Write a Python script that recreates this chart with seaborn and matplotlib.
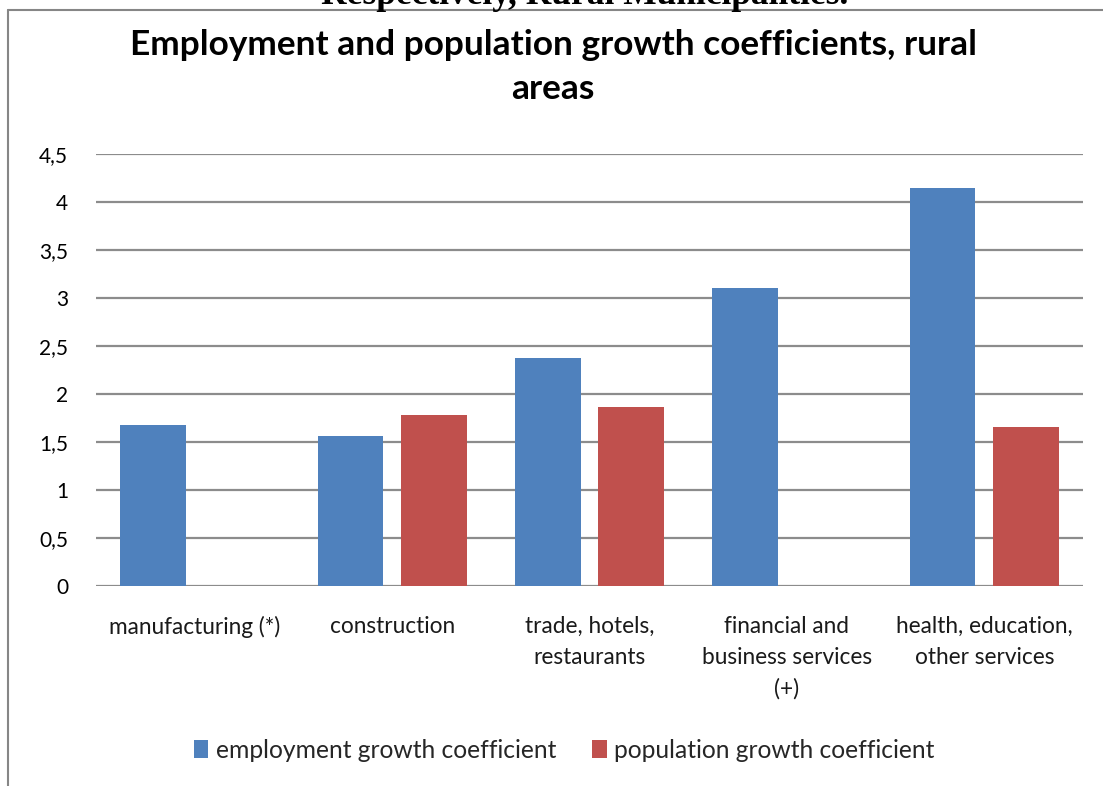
import numpy as np
import pandas as pd
import matplotlib
matplotlib.use("Agg")
import matplotlib.pyplot as plt
from matplotlib.lines import Line2D
import seaborn as sns

categories = ["manufacturing (*)", "construction", "trade, hotels,\nrestaurants",
              "financial and\nbusiness services\n(+)", "health, education,\nother services"]
employment = [1.67, 1.56, 2.37, 3.10, 4.15]
population = [np.nan, 1.78, 1.86, np.nan, 1.65]
series_names = ["employment growth coefficient", "population growth coefficient"]
y_ticks = [0, 0.5, 1, 1.5, 2, 2.5, 3, 3.5, 4, 4.5]
y_tick_labels = ["0", "0,5", "1", "1,5", "2", "2,5", "3", "3,5", "4", "4,5"]
title = "Employment and population growth coefficients, rural\nareas"
header = "Respectively, Rural Municipalities."

df = pd.DataFrame({
    "category": categories * 2,
    "value": employment + population,
    "series": [series_names[0]] * len(categories) + [series_names[1]] * len(categories),
})

sns.set_theme(style="white")
plt.rcParams["font.family"] = ["Lato", "DejaVu Sans"]

W, H = 1103, 786
fig = plt.figure(figsize=(W / 100, H / 100), dpi=100)
ax = fig.add_axes([96 / W, 1 - 585.7 / H, (1083 - 96) / W, (585.7 - 154) / H])

palette = {series_names[0]: "#4F81BD", series_names[1]: "#C0504D"}
sns.barplot(data=df, x="category", y="value", hue="series", order=categories,
            hue_order=series_names, palette=palette, width=0.845, gap=0.215,
            saturation=1, ax=ax, legend=True, edgecolor="none", linewidth=0)

ax.set_ylim(0, 4.5)
ax.set_xlim(-0.5, len(categories) - 0.5)
ax.set_yticks(y_ticks)
ax.set_yticklabels(y_tick_labels, fontsize=15, color="#000000")
ax.yaxis.grid(True, color="#8c8c8c", linewidth=1.6)
ax.set_axisbelow(True)
for s in ax.spines.values():
    s.set_visible(False)
ax.tick_params(axis="y", length=0, pad=20)
ax.tick_params(axis="x", length=0, pad=22)
for lab in ax.get_xticklabels():
    lab.set_fontsize(16.3)
    lab.set_linespacing(1.58)
    lab.set_color("#1a1a1a")
    lab.set_va("top")
ax.set_xlabel("")
ax.set_ylabel("")

handles, labels = ax.get_legend_handles_labels()
ax.legend_.remove()
fig.legend(handles, labels, loc="center", bbox_to_anchor=(564 / W, 1 - 750 / H),
           ncol=2, frameon=False, fontsize=17.7, handlelength=0.6, handleheight=0.75,
           handletextpad=0.3, columnspacing=1.45)

fig.text(553 / W, 1 - 67 / H, title, ha="center", va="center", fontsize=25.4,
         fontweight="bold", linespacing=1.45, color="#000000")

fig.text(585 / W, 1 - 4 / H, header, ha="center", va="baseline", fontsize=25.5,
         fontweight="bold", family=["Liberation Serif", "DejaVu Serif"], color="#000000")

# chart frame (left and top edges)
fig.add_artist(Line2D([8 / W, 8 / W], [0, 1 - 10 / H], transform=fig.transFigure,
                      color="#868686", linewidth=1.5))
fig.add_artist(Line2D([8 / W, 1], [1 - 10 / H, 1 - 10 / H], transform=fig.transFigure,
                      color="#868686", linewidth=1.5))

fig.savefig("out.png", dpi=100)
